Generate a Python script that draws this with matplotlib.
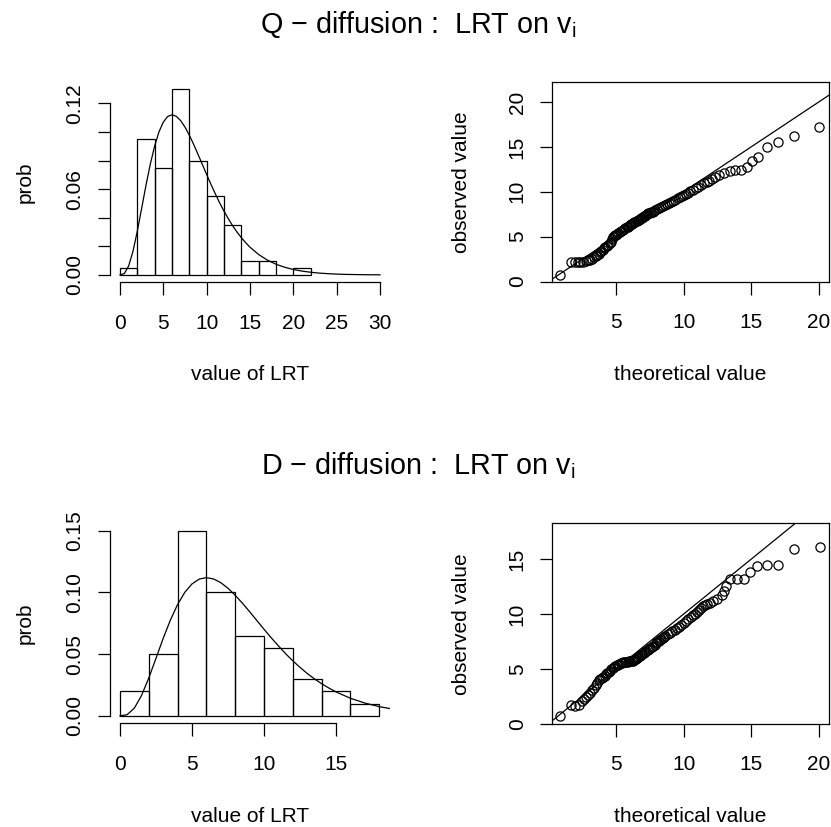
import matplotlib
matplotlib.use('Agg')
import matplotlib.pyplot as plt
import numpy as np

plt.rcParams['font.family'] = ['Liberation Sans', 'DejaVu Sans']
plt.rcParams['mathtext.fontset'] = 'custom'
plt.rcParams['mathtext.rm'] = 'Liberation Sans'
plt.rcParams['mathtext.it'] = 'Liberation Sans:italic'

# ---------------- data ----------------
# Q-diffusion histogram (density per bin of width 2)
q_bin_edges = [0, 2, 4, 6, 8, 10, 12, 14, 16, 18, 20, 22]
q_density = [0.005, 0.095, 0.075, 0.13, 0.08, 0.055, 0.035, 0.01, 0.01, 0.0, 0.005]

# D-diffusion histogram
d_bin_edges = [0, 2, 4, 6, 8, 10, 12, 14, 16, 18]
d_density = [0.02, 0.05, 0.15, 0.10, 0.065, 0.055, 0.03, 0.02, 0.01]

# reference density curve
curve_x = [0, 0.5, 1, 1.5, 2, 2.5, 3, 3.5, 4, 4.5, 5, 5.5, 6, 6.5, 7, 7.5, 8, 8.5,
           9, 9.5, 10, 10.5, 11, 11.5, 12, 12.5, 13, 13.5, 14, 14.5, 15,
           16, 17, 18, 19, 20, 21, 22, 23, 24, 25, 26, 27, 28, 29, 30]
curve_y = [0.0, 0.0010, 0.0063, 0.0166, 0.0307, 0.0466, 0.0628, 0.0776, 0.0902,
           0.1001, 0.1069, 0.1108, 0.1120, 0.1109, 0.1079, 0.1034, 0.0977, 0.0913,
           0.0844, 0.0773, 0.0702, 0.0633, 0.0567, 0.0504, 0.0446, 0.0393, 0.0344,
           0.0300, 0.0261, 0.0226, 0.0194,
           0.0143, 0.0104, 0.0075, 0.0054, 0.0038, 0.0027, 0.0019, 0.0013, 0.0009,
           0.0006, 0.0004, 0.0003, 0.0002, 0.00013, 0.00009]

# Q-diffusion QQ plot: theoretical vs observed
q_theo = [0.87,
          1.68, 1.95, 2.15, 2.35, 2.55, 2.75, 2.95, 3.1, 3.25, 3.4, 3.5, 3.6, 3.72, 3.82,
          3.92, 4.02, 4.12, 4.22, 4.32,
          4.42, 4.52, 4.6, 4.68, 4.75, 4.82, 4.9, 4.98, 5.08, 5.18, 5.3, 5.4, 5.5, 5.6, 5.7,
          5.8, 5.88, 5.96, 6.04, 6.12, 6.2, 6.28, 6.36, 6.44, 6.52, 6.6, 6.68, 6.76, 6.84,
          6.92, 7.0, 7.08, 7.16, 7.24, 7.32, 7.4, 7.5, 7.6, 7.7, 7.8, 7.92,
          8.05, 8.2, 8.35, 8.5, 8.65, 8.8, 8.95, 9.1, 9.25, 9.4, 9.55, 9.7, 9.85, 10.0,
          10.15, 10.3,
          10.5, 10.7, 10.9, 11.1, 11.3, 11.5, 11.7, 11.9, 12.1, 12.35, 12.6,
          13.0, 13.4, 13.8, 14.25, 14.7, 15.05, 15.5,
          16.15, 17.0, 18.15, 20.05, 22.4]
q_obs = [0.75,
         2.12, 2.15, 2.18, 2.2, 2.22, 2.28, 2.35, 2.45, 2.55, 2.7, 2.82, 2.95, 3.1, 3.25,
         3.4, 3.55, 3.7, 3.85, 3.97,
         4.08, 4.25, 4.45, 4.7, 4.95, 5.08, 5.15, 5.22, 5.3, 5.4, 5.5, 5.6, 5.7, 5.82, 5.93,
         6.02, 6.1, 6.2, 6.3, 6.38, 6.45, 6.52, 6.6, 6.68, 6.75, 6.82, 6.9, 6.98, 7.05,
         7.12, 7.2, 7.28, 7.35, 7.42, 7.5, 7.58, 7.66, 7.74, 7.8, 7.88, 7.96,
         8.05, 8.15, 8.27, 8.38, 8.5, 8.62, 8.75, 8.88, 9.0, 9.12, 9.25, 9.37, 9.5, 9.62,
         9.75, 9.88,
         10.05, 10.2, 10.4, 10.55, 10.75, 10.95, 11.1, 11.25, 11.4, 11.6, 11.85,
         12.1, 12.35, 12.45, 12.45, 12.8, 13.4, 13.9,
         14.95, 15.5, 16.2, 17.2, 21.37]

# D-diffusion QQ plot
d_theo = [0.87, 1.68, 1.98, 2.25,
          2.45, 2.6, 2.75, 2.9, 3.05, 3.2, 3.35, 3.5, 3.62, 3.74,
          3.85, 3.95, 4.05, 4.15, 4.25, 4.35, 4.45, 4.55, 4.65, 4.75, 4.85, 4.95, 5.05,
          5.15, 5.25, 5.35, 5.45, 5.55, 5.65, 5.75, 5.85, 5.95, 6.05, 6.15, 6.22, 6.29,
          6.36, 6.43, 6.5, 6.57,
          6.65, 6.75, 6.85, 6.95, 7.05, 7.15, 7.25, 7.35, 7.45, 7.55, 7.65, 7.75, 7.85,
          7.95, 8.05, 8.15, 8.25, 8.35, 8.45, 8.55,
          8.65, 8.82, 8.99, 9.16, 9.33, 9.5, 9.67, 9.84, 10.01, 10.18, 10.35, 10.52, 10.69,
          10.85, 11.0, 11.15, 11.3, 11.45, 11.6, 11.75, 11.95, 12.15, 12.5, 12.84,
          12.98, 13.16, 13.46, 13.95, 14.45, 14.94,
          15.43, 16.17, 17.0, 18.15,
          20.06, 22.6]
d_obs = [0.67, 1.68, 1.62, 1.68,
         2.05, 2.25, 2.45, 2.65, 2.85, 3.05, 3.3, 3.55, 3.75, 3.95,
         4.05, 4.15, 4.28, 4.4, 4.5, 4.6, 4.72, 4.85, 4.95, 5.05, 5.15, 5.25, 5.33,
         5.4, 5.47, 5.52, 5.56, 5.6, 5.62, 5.64, 5.66, 5.68, 5.7, 5.73, 5.76, 5.8,
         5.84, 5.88, 5.93, 5.98,
         6.08, 6.18, 6.28, 6.38, 6.47, 6.56, 6.65, 6.74, 6.83, 6.92, 7.02, 7.12, 7.22,
         7.32, 7.42, 7.52, 7.62, 7.72, 7.82, 7.92,
         8.02, 8.15, 8.28, 8.42, 8.56, 8.7, 8.86, 9.02, 9.18, 9.35, 9.52, 9.7, 9.88,
         10.05, 10.22, 10.4, 10.55, 10.7, 10.82, 10.93, 11.05, 11.2, 11.4, 11.7,
         12.1, 12.6, 13.16, 13.16, 13.18, 13.8,
         14.35, 14.45, 14.45, 15.9,
         16.07, 17.6]

q_hist_xticks = [0, 5, 10, 15, 20, 25, 30]
q_hist_yticks = [0.0, 0.02, 0.04, 0.06, 0.08, 0.10, 0.12]
q_hist_ylabels = ['0.00', '', '', '0.06', '', '', '0.12']
d_hist_xticks = [0, 5, 10, 15]
d_hist_yticks = [0.0, 0.05, 0.10, 0.15]
d_hist_ylabels = ['0.00', '0.05', '0.10', '0.15']
qq_xticks = [5, 10, 15, 20]
q_qq_yticks = [0, 5, 10, 15, 20]
d_qq_yticks = [0, 5, 10, 15]

title_q = r'Q $-$ diffusion :  LRT on $\mathrm{v}_{\mathrm{i}}$'
title_d = r'D $-$ diffusion :  LRT on $\mathrm{v}_{\mathrm{i}}$'

# ---------------- figure ----------------
W, H = 831, 827
fig = plt.figure(figsize=(W / 100, H / 100), dpi=100)

LW = 0.9
FS = 15.0
TICKLEN = 9.0


def add_ax(l, r, t, b):
    return fig.add_axes([l / W, 1 - b / H, (r - l) / W, (b - t) / H])


def rlim(a, b):
    d = 0.04 * (b - a)
    return (a - d, b + d)


def base_style(ax):
    ax.tick_params(direction='out', length=TICKLEN, width=LW, labelsize=FS, colors='black')
    ax.tick_params(axis='x', pad=13.5)
    ax.tick_params(axis='y', pad=9.0)
    for s in ax.spines.values():
        s.set_linewidth(LW)


def hist_panel(ax, edges, dens, xticks, yticks, ylabels, xlim):
    widths = np.diff(edges)
    ax.bar(edges[:-1], dens, width=widths, align='edge', fill=False,
           edgecolor='black', linewidth=LW)
    ax.plot(curve_x, curve_y, color='black', linewidth=LW)
    ax.set_xlim(*rlim(*xlim))
    ax.set_ylim(*rlim(0, max(dens)))
    base_style(ax)
    ax.spines['top'].set_visible(False)
    ax.spines['right'].set_visible(False)
    ax.set_xticks(xticks, [str(t) for t in xticks])
    ax.set_yticks(yticks, ylabels, rotation=90, va='center')
    ax.spines['bottom'].set_bounds(xticks[0], xticks[-1])
    ax.spines['left'].set_bounds(yticks[0], yticks[-1])


def qq_panel(ax, theo, obs, yticks):
    ax.plot(theo, obs, linestyle='none', marker='o', markersize=6.6,
            markerfacecolor='none', markeredgecolor='black', markeredgewidth=LW)
    ax.axline((0, 0), slope=1, color='black', linewidth=LW)
    ax.set_xlim(*rlim(1, 20))
    ax.set_ylim(*rlim(min(obs), max(obs)))
    base_style(ax)
    ax.set_xticks(qq_xticks, [str(t) for t in qq_xticks])
    ax.set_yticks(yticks, [str(t) for t in yticks], rotation=90, va='center')


ROW = 441.7

ax1 = add_ax(109.6, 390.4, 81.6, 282.4)
hist_panel(ax1, q_bin_edges, q_density, q_hist_xticks, q_hist_yticks, q_hist_ylabels, (0, 30))
ax2 = add_ax(551.7, 829.0, 82.3, 282.2)
qq_panel(ax2, q_theo, q_obs, q_qq_yticks)

ax3 = add_ax(109.6, 389.6, 81.6 + ROW, 282.4 + ROW - 0.8)
hist_panel(ax3, d_bin_edges, d_density, d_hist_xticks, d_hist_yticks, d_hist_ylabels, (0, 18))
ax4 = add_ax(551.7, 829.0, 82.3 + ROW - 0.8, 282.2 + ROW)
qq_panel(ax4, d_theo, d_obs, d_qq_yticks)


def ftext(x, y, s, **kw):
    fig.text(x / W, 1 - y / H, s, **kw)


for k in range(2):
    dy = k * ROW
    ftext(250, 375 + dy, 'value of LRT', ha='center', va='center', fontsize=FS)
    ftext(690.4, 375 + dy, 'theoretical value', ha='center', va='center', fontsize=FS)
    ftext(25, 182 + dy, 'prob', ha='center', va='center', rotation=90, fontsize=FS)
    ftext(461.7, 182 + dy, 'observed value', ha='center', va='center', rotation=90, fontsize=FS)

ftext(418, 32.5, title_q, ha='center', va='baseline', fontsize=20.7)
ftext(418, 32.5 + ROW, title_d, ha='center', va='baseline', fontsize=20.7)

fig.savefig('out.png', dpi=100)
